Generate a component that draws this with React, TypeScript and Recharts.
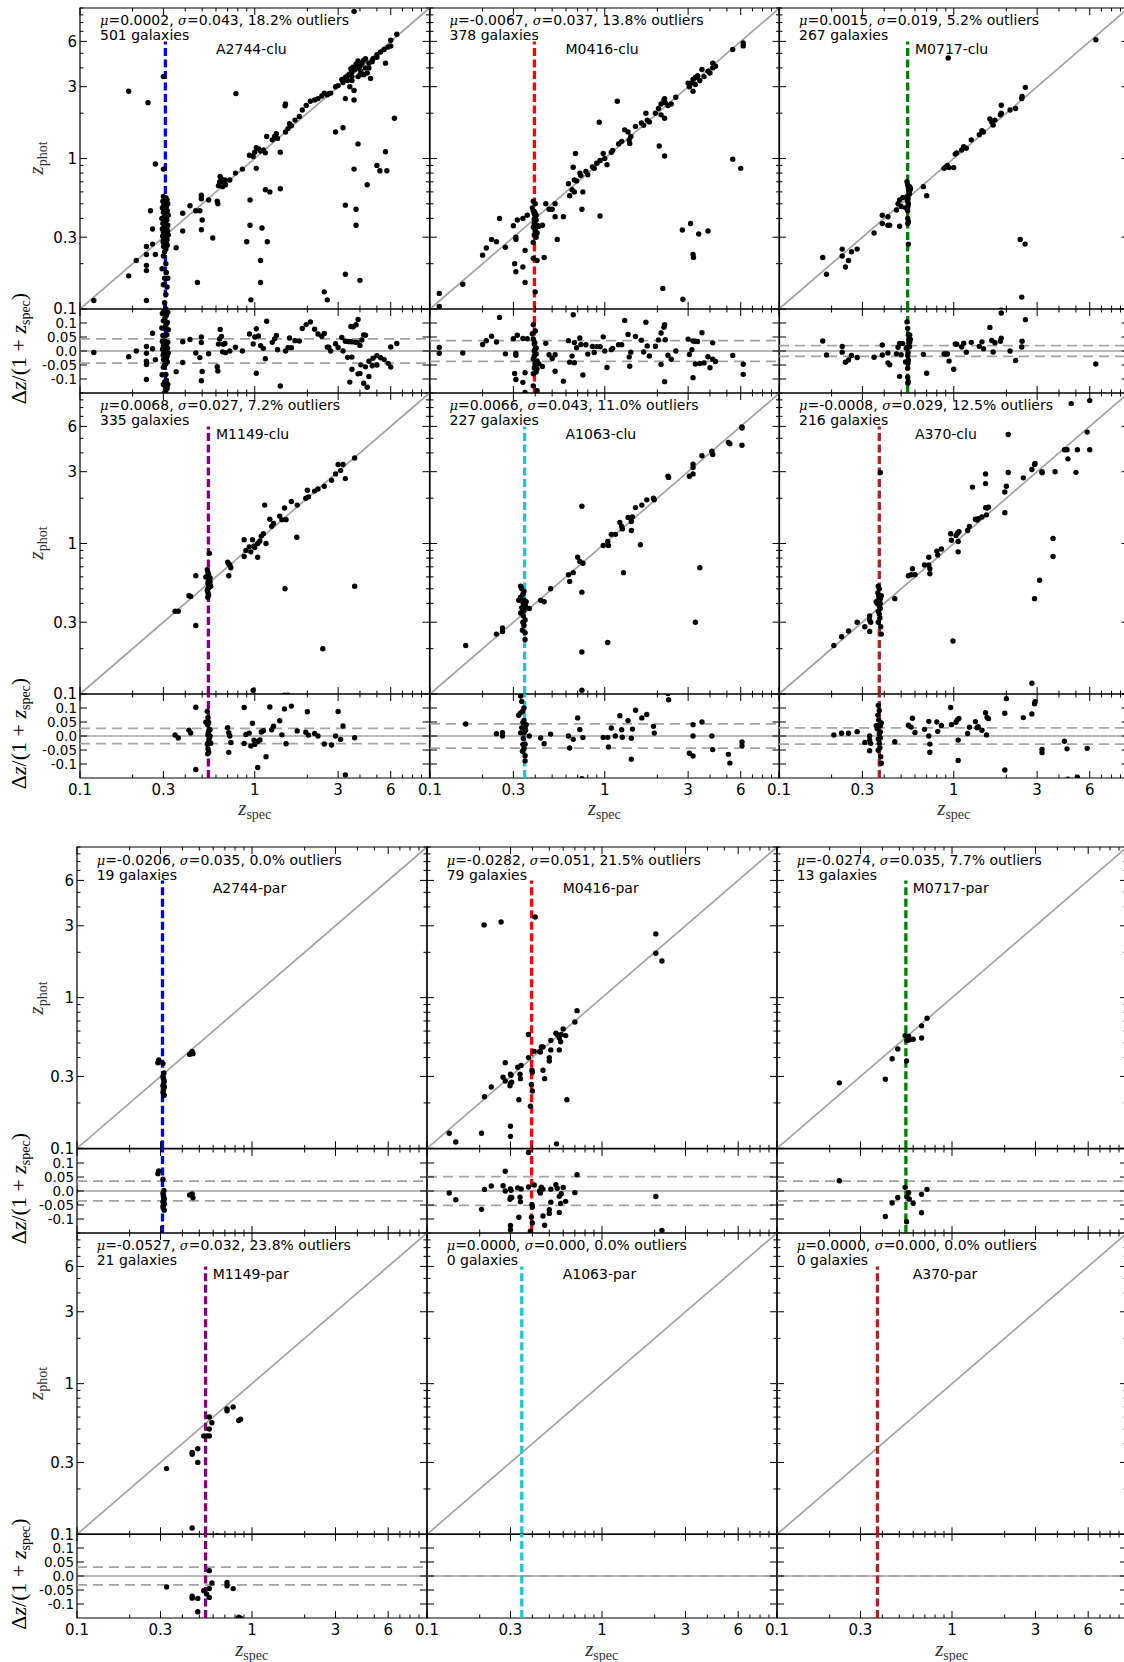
import React from "react";
import {
  ReferenceArea,
  ReferenceLine,
  Scatter,
  ScatterChart,
  XAxis,
  YAxis,
} from "recharts";

type Pt = [number, number]; // [z_spec, z_phot]

// ---- cluster fields ----
const A2744_CLU: Pt[] = [
  [0.12, 0.114], [0.19, 0.166], [0.21, 0.21], [0.24, 0.26], [0.24, 0.23], [0.24, 0.195], [0.24, 0.18],
  [0.24, 0.114], [0.253, 0.45], [0.26, 0.34], [0.26, 0.27], [0.27, 0.23], [0.27, 0.92], [0.19, 2.8],
  [0.245, 2.35], [0.3, 3.5], [0.3, 0.85],
  [0.3, 0.56], [0.31, 0.55], [0.305, 0.54], [0.315, 0.53], [0.298, 0.52], [0.308, 0.51], [0.318, 0.5],
  [0.302, 0.49], [0.312, 0.48], [0.296, 0.47], [0.306, 0.46], [0.316, 0.45], [0.3, 0.44], [0.31, 0.43],
  [0.32, 0.42], [0.304, 0.41], [0.294, 0.4], [0.314, 0.39], [0.308, 0.38], [0.298, 0.37], [0.318, 0.36],
  [0.303, 0.35], [0.313, 0.345], [0.296, 0.34], [0.307, 0.335], [0.317, 0.33], [0.3, 0.325], [0.311, 0.32],
  [0.305, 0.315], [0.32, 0.31], [0.297, 0.305], [0.309, 0.3], [0.302, 0.295], [0.315, 0.29], [0.306, 0.285],
  [0.299, 0.28], [0.312, 0.275], [0.304, 0.27], [0.316, 0.265], [0.301, 0.26], [0.31, 0.25], [0.305, 0.24],
  [0.3, 0.225], [0.31, 0.2], [0.295, 0.185], [0.312, 0.175], [0.305, 0.16], [0.318, 0.16], [0.3, 0.145],
  [0.315, 0.14], [0.31, 0.125], [0.305, 0.11], [0.31, 0.1],
  [0.355, 0.255], [0.387, 0.33], [0.387, 0.433], [0.426, 0.485], [0.46, 0.45], [0.485, 0.45], [0.495, 0.57],
  [0.495, 0.54], [0.5, 0.39], [0.495, 0.336], [0.545, 0.53], [0.61, 0.52], [0.615, 0.5], [0.575, 0.296],
  [0.47, 0.15], [0.634, 0.76], [0.645, 0.73], [0.66, 0.7], [0.68, 0.67], [0.63, 0.7], [0.62, 0.66],
  [0.655, 0.65], [0.675, 0.72], [0.72, 0.72], [0.776, 0.8], [0.85, 0.85], [0.933, 1.05], [0.98, 1.03],
  [1.0, 1.1], [1.02, 1.18], [1.05, 1.16], [1.08, 1.12], [1.12, 1.14], [1.17, 1.4], [1.02, 0.86],
  [1.15, 1.09], [1.26, 1.33], [1.3, 1.4], [1.33, 1.46], [1.35, 1.36], [1.4, 1.1], [1.5, 1.5], [1.55, 1.58],
  [1.62, 1.65], [1.58, 1.7], [1.5, 2.3], [1.49, 2.24], [1.7, 1.8], [1.8, 1.9], [1.87, 2.1], [1.97, 2.25],
  [2.08, 2.4], [2.2, 2.45], [2.3, 2.5], [2.42, 2.6], [2.5, 2.72], [2.6, 2.65], [2.65, 2.7], [2.72, 2.72],
  [2.9, 3.0], [3.0, 3.05], [3.15, 3.35], [3.3, 3.45], [3.45, 3.6], [3.55, 3.95], [3.65, 4.05], [3.8, 4.25],
  [3.9, 4.45], [4.0, 4.1], [3.35, 3.5], [3.5, 3.65], [3.6, 3.75], [3.75, 3.9], [3.85, 4.0], [4.1, 4.3],
  [4.2, 4.5], [4.3, 4.6], [3.2, 3.2], [3.4, 3.3], [3.6, 3.5], [4.05, 3.8], [4.3, 4.0], [3.5, 3.0],
  [3.6, 3.3], [4.0, 3.6], [4.2, 3.6], [3.9, 3.5], [4.5, 4.0], [4.7, 4.4], [5.0, 4.7],
  [3.3, 2.5], [3.7, 2.45], [3.7, 2.83], [4.4, 3.7], [4.6, 3.4], [4.5, 4.3], [4.75, 4.6], [5.0, 4.9],
  [5.25, 5.1], [5.5, 5.3], [5.8, 5.5], [6.0, 5.6], [5.6, 4.3], [6.0, 6.1], [6.5, 6.7], [3.7, 9.5],
  [6.3, 1.85], [2.9, 1.5], [3.2, 1.6], [3.9, 1.25], [3.7, 0.85], [5.0, 0.9], [5.2, 0.83], [5.7, 0.83],
  [5.6, 1.11], [4.4, 0.67], [3.3, 0.49], [3.8, 0.46], [3.8, 0.36], [3.3, 0.17], [4.0, 0.155], [2.5, 0.13],
  [2.6, 0.115], [1.4, 0.63], [1.15, 0.62], [1.22, 0.6], [0.94, 0.53], [0.94, 0.36], [1.1, 0.345],
  [1.18, 0.28], [0.9, 0.28], [1.08, 0.21], [1.08, 0.15], [0.95, 0.115], [0.78, 2.7],
];

const M0416_CLU: Pt[] = [
  [0.113, 0.127], [0.113, 0.104], [0.154, 0.146], [0.2, 0.228], [0.21, 0.254], [0.225, 0.29], [0.24, 0.28],
  [0.25, 0.4], [0.27, 0.257], [0.3, 0.357], [0.31, 0.3], [0.31, 0.29], [0.316, 0.39], [0.305, 0.2],
  [0.31, 0.177], [0.34, 0.19], [0.35, 0.15], [0.35, 0.245], [0.34, 0.4], [0.36, 0.42],
  [0.385, 0.47], [0.39, 0.45], [0.395, 0.43], [0.4, 0.41], [0.405, 0.39], [0.395, 0.37], [0.39, 0.35],
  [0.4, 0.33], [0.395, 0.31], [0.405, 0.3], [0.4, 0.5], [0.39, 0.52], [0.398, 0.44], [0.41, 0.36],
  [0.42, 0.355], [0.44, 0.36], [0.405, 0.42], [0.395, 0.395], [0.4, 0.34], [0.41, 0.32],
  [0.39, 0.277], [0.39, 0.217], [0.41, 0.21], [0.45, 0.22], [0.4, 0.13],
  [0.46, 0.5], [0.48, 0.46], [0.5, 0.46], [0.52, 0.41], [0.52, 0.5], [0.58, 0.41], [0.535, 0.29],
  [0.62, 0.68], [0.63, 0.565], [0.65, 0.62], [0.67, 0.6], [0.67, 0.72], [0.69, 0.71], [0.72, 0.8],
  [0.73, 0.77], [0.75, 0.6], [0.74, 0.46], [0.66, 0.875], [0.68, 1.08], [0.78, 0.82], [0.8, 0.78],
  [0.85, 0.88], [0.87, 0.86], [0.9, 0.93], [0.94, 0.97], [0.98, 1.08], [1.0, 1.0], [1.03, 0.91],
  [1.09, 1.1], [1.11, 1.13], [0.94, 0.415], [0.93, 1.74], [1.18, 2.4], [1.2, 1.25], [1.25, 1.3],
  [1.3, 1.55], [1.36, 1.5], [1.41, 1.4], [1.38, 1.33], [1.39, 1.26], [1.5, 1.63], [1.62, 1.72],
  [1.67, 1.66], [1.72, 2.0], [1.75, 1.8], [1.8, 1.75], [1.95, 2.0], [2.03, 2.15], [2.1, 2.3],
  [2.18, 2.45], [2.2, 2.5], [2.22, 2.35], [2.1, 1.95], [2.2, 1.85], [2.3, 2.25], [2.4, 2.3],
  [2.05, 1.21], [2.2, 1.04], [2.55, 2.55], [3.0, 3.17], [3.05, 3.0], [3.15, 3.17], [3.2, 3.35],
  [3.3, 3.45], [3.4, 3.55], [3.2, 2.8], [3.3, 3.1], [3.5, 3.3], [3.7, 3.5], [3.6, 3.9], [3.9, 3.8],
  [4.0, 3.7], [4.15, 4.3], [4.15, 4.0], [4.3, 4.1], [5.4, 5.3], [6.2, 5.86], [6.2, 5.6], [5.4, 0.99],
  [6.0, 0.86], [2.78, 0.335], [3.1, 0.37], [3.45, 0.315], [3.9, 0.33], [3.2, 0.23], [3.22, 0.22],
  [2.15, 0.137], [2.8, 0.116],
];

const M0717_CLU: Pt[] = [
  [0.178, 0.22], [0.187, 0.17], [0.23, 0.25], [0.23, 0.225], [0.24, 0.19], [0.25, 0.21], [0.26, 0.24],
  [0.28, 0.25], [0.35, 0.32], [0.39, 0.42], [0.39, 0.37], [0.42, 0.41], [0.42, 0.36], [0.43, 0.36],
  [0.49, 0.355], [0.47, 0.455], [0.48, 0.5], [0.49, 0.53], [0.5, 0.48], [0.51, 0.55],
  [0.54, 0.7], [0.545, 0.67], [0.55, 0.64], [0.553, 0.62], [0.556, 0.6], [0.558, 0.58], [0.54, 0.56],
  [0.548, 0.54], [0.545, 0.52], [0.55, 0.5], [0.547, 0.48], [0.545, 0.45], [0.53, 0.47], [0.56, 0.61],
  [0.565, 0.63], [0.56, 0.65], [0.535, 0.55], [0.545, 0.4], [0.55, 0.38], [0.546, 0.37],
  [0.55, 0.27], [0.67, 0.65], [0.7, 0.565], [0.88, 0.86], [0.9, 0.88], [0.92, 0.9], [0.94, 0.87],
  [1.0, 0.87], [1.02, 1.07], [1.04, 1.09], [1.11, 1.14], [1.14, 1.2], [1.18, 1.17], [1.26, 1.33],
  [1.4, 1.44], [1.45, 1.53], [1.48, 1.5], [1.61, 1.83], [1.68, 1.67], [1.72, 1.8], [1.65, 1.75],
  [1.87, 2.26], [1.87, 2.0], [1.85, 1.95], [2.1, 2.1], [2.26, 2.15], [2.45, 2.5], [2.46, 2.58],
  [2.57, 2.97], [6.5, 6.15], [0.93, 4.65], [2.4, 0.29], [2.56, 0.27], [2.45, 0.12], [1.87, 0.098],
];

const M1149_CLU: Pt[] = [
  [0.35, 0.355], [0.365, 0.355], [0.42, 0.45], [0.43, 0.445], [0.46, 0.61], [0.46, 0.285],
  [0.535, 0.67], [0.54, 0.64], [0.545, 0.62], [0.538, 0.6], [0.548, 0.58], [0.542, 0.56], [0.54, 0.545],
  [0.548, 0.53], [0.545, 0.51], [0.535, 0.49], [0.54, 0.47], [0.525, 0.6], [0.555, 0.59], [0.555, 0.555],
  [0.56, 0.52], [0.54, 0.5], [0.545, 0.455], [0.538, 0.44], [0.55, 0.86],
  [0.7, 0.75], [0.71, 0.73], [0.73, 0.69], [0.71, 0.61], [0.72, 0.72],
  [0.87, 1.06], [0.87, 0.82], [0.89, 0.9], [0.93, 0.95], [0.95, 0.88], [0.97, 1.06], [0.99, 0.96],
  [1.0, 0.94], [1.04, 1.0], [1.07, 1.04], [1.09, 1.12], [1.12, 1.16], [1.04, 0.81], [1.14, 1.8],
  [1.16, 1.0], [1.22, 1.45], [1.25, 1.3], [1.28, 1.36], [1.39, 1.52], [1.43, 1.44], [1.48, 1.72],
  [1.51, 1.44], [1.74, 1.1], [1.62, 1.9], [1.75, 1.8], [1.96, 2.0], [2.0, 2.26], [2.03, 2.04],
  [2.2, 2.23], [2.3, 2.3], [2.5, 2.4], [2.75, 2.63], [2.9, 2.9], [3.0, 3.35], [3.2, 3.35], [3.3, 2.7],
  [3.1, 3.05], [3.73, 3.7], [1.49, 0.5], [3.73, 0.52], [2.45, 0.2], [0.98, 0.106], [1.48, 0.098],
  [1.55, 0.098],
];

const A1063_CLU: Pt[] = [
  [0.16, 0.21], [0.24, 0.25], [0.26, 0.275], [0.26, 0.26],
  [0.33, 0.52], [0.335, 0.5], [0.345, 0.48], [0.34, 0.46], [0.33, 0.44], [0.345, 0.42], [0.34, 0.405],
  [0.35, 0.39], [0.335, 0.375], [0.345, 0.36], [0.33, 0.345], [0.342, 0.33], [0.35, 0.31], [0.34, 0.3],
  [0.345, 0.285], [0.338, 0.265], [0.35, 0.255], [0.322, 0.42], [0.355, 0.41], [0.352, 0.38],
  [0.34, 0.355], [0.35, 0.23], [0.37, 0.37], [0.43, 0.42], [0.45, 0.41], [0.49, 0.5], [0.62, 0.62],
  [0.63, 0.56], [0.66, 0.64], [0.7, 0.81], [0.72, 0.76], [0.75, 0.74], [0.74, 1.77], [0.74, 0.475],
  [0.74, 0.19], [0.74, 0.106], [0.98, 0.97], [1.04, 1.03], [1.05, 0.97], [1.04, 0.22], [1.09, 1.15],
  [1.15, 1.15], [1.22, 1.38], [1.25, 1.3], [1.26, 1.25], [1.36, 1.49], [1.42, 1.4], [1.42, 1.22],
  [1.44, 1.5], [1.5, 1.73], [1.6, 0.98], [1.63, 1.8], [1.28, 0.64], [1.74, 1.95], [1.9, 2.0],
  [1.92, 1.95], [2.3, 2.8], [2.32, 2.75], [3.05, 2.8], [3.2, 3.2], [3.2, 3.37], [3.2, 2.9], [3.6, 3.83],
  [4.1, 4.1], [4.15, 3.9], [5.1, 4.7], [5.2, 4.6], [6.1, 5.95], [6.1, 5.85], [6.1, 4.5], [3.5, 0.69],
  [3.3, 0.3],
];

const A370_CLU: Pt[] = [
  [0.206, 0.21], [0.228, 0.24], [0.25, 0.262], [0.28, 0.3], [0.31, 0.28], [0.33, 0.33], [0.33, 0.31],
  [0.335, 0.3], [0.33, 0.26],
  [0.37, 0.52], [0.375, 0.5], [0.368, 0.47], [0.372, 0.45], [0.38, 0.43], [0.37, 0.42], [0.365, 0.4],
  [0.375, 0.385], [0.38, 0.37], [0.37, 0.355], [0.375, 0.34], [0.385, 0.25], [0.36, 0.41], [0.385, 0.45],
  [0.378, 0.32], [0.37, 0.3], [0.382, 0.28], [0.38, 0.4],
  [0.46, 0.43], [0.38, 2.96], [0.55, 0.61], [0.57, 0.62], [0.58, 0.68], [0.6, 0.62], [0.68, 0.72],
  [0.72, 0.72], [0.73, 0.68], [0.73, 0.63], [0.72, 0.81], [0.8, 0.89], [0.81, 0.84], [0.85, 0.92],
  [0.96, 1.16], [0.97, 1.05], [1.03, 1.13], [1.05, 1.17], [1.07, 1.2], [1.06, 0.88], [1.06, 1.03],
  [1.2, 1.22], [1.23, 1.3], [1.28, 2.37], [1.33, 1.45], [1.36, 1.43], [1.38, 1.46], [1.45, 1.5],
  [1.52, 1.73], [1.55, 1.72], [1.58, 1.74], [1.54, 1.55], [1.52, 2.9], [1.52, 2.5], [1.96, 2.2],
  [1.96, 1.6], [2.0, 2.4], [2.05, 5.3], [2.05, 2.96], [2.5, 2.73], [2.8, 3.1], [2.9, 3.35], [2.92, 3.4],
  [3.2, 3.0], [3.2, 2.95], [3.8, 3.0], [4.3, 4.2], [4.45, 4.2], [4.5, 3.65], [5.1, 4.2], [5.0, 2.97],
  [4.7, 8.5], [6.0, 8.9], [5.8, 5.5], [6.0, 4.2], [3.7, 1.08], [3.7, 0.82], [3.1, 0.57], [2.9, 0.43],
  [0.99, 0.225], [2.8, 0.118],
];

// ---- parallel fields ----
const A2744_PAR: Pt[] = [
  [0.098, 0.098], [0.098, 0.05], [0.29, 0.37], [0.293, 0.386], [0.31, 0.365], [0.314, 0.316],
  [0.31, 0.3], [0.312, 0.29], [0.315, 0.28], [0.313, 0.27], [0.31, 0.26], [0.316, 0.255], [0.312, 0.245],
  [0.31, 0.235], [0.315, 0.225], [0.44, 0.42], [0.45, 0.43], [0.455, 0.44], [0.46, 0.425],
];

const M0416_PAR: Pt[] = [
  [0.134, 0.126], [0.146, 0.11], [0.205, 0.126], [0.213, 0.22], [0.233, 0.255], [0.212, 3.04],
  [0.265, 3.18], [0.415, 3.43], [0.28, 0.37], [0.272, 0.296], [0.28, 0.28], [0.3, 0.31], [0.302, 0.305],
  [0.3, 0.27], [0.305, 0.275], [0.298, 0.26], [0.3, 0.14], [0.3, 0.12], [0.335, 0.21], [0.33, 0.345],
  [0.345, 0.355], [0.34, 0.31], [0.342, 0.29], [0.38, 0.57], [0.38, 0.4], [0.4, 0.32], [0.398, 0.33],
  [0.395, 0.265], [0.4, 0.24], [0.39, 0.19], [0.38, 0.092], [0.41, 0.44], [0.44, 0.44], [0.445, 0.435],
  [0.45, 0.47], [0.46, 0.47], [0.46, 0.33], [0.47, 0.29], [0.5, 0.38], [0.5, 0.4], [0.51, 0.45],
  [0.51, 0.52], [0.545, 0.58], [0.555, 0.57], [0.57, 0.54], [0.58, 0.51], [0.57, 0.45], [0.6, 0.62],
  [0.62, 0.56], [0.585, 0.57], [0.55, 0.107], [0.63, 0.21], [0.7, 0.69], [0.72, 0.82], [2.03, 2.65],
  [2.03, 1.97], [2.2, 1.75],
];

const M0717_PAR: Pt[] = [
  [0.227, 0.272], [0.416, 0.287], [0.455, 0.393], [0.49, 0.456], [0.54, 0.56], [0.565, 0.555],
  [0.553, 0.52], [0.57, 0.525], [0.6, 0.53], [0.55, 0.38], [0.67, 0.54], [0.67, 0.65], [0.72, 0.73],
];

const M1149_PAR: Pt[] = [
  [0.325, 0.273], [0.455, 0.35], [0.455, 0.34], [0.49, 0.37], [0.49, 0.3], [0.455, 0.11], [0.53, 0.45],
  [0.55, 0.45], [0.57, 0.45], [0.57, 0.5], [0.57, 0.6], [0.59, 0.55], [0.72, 0.68], [0.72, 0.66],
  [0.78, 0.7], [0.84, 0.57], [0.86, 0.58], [0.63, 0.098],
];

const A1063_PAR: Pt[] = [];
const A370_PAR: Pt[] = [];

// ---- panel labels / stats ----
const CLUSTERS = ["A2744", "M0416", "M0717", "M1149", "A1063", "A370"];
const Z_CLUSTER = [0.308, 0.396, 0.545, 0.543, 0.348, 0.375];
const LINE_COLORS = ["#0000ff", "#ff0000", "#008000", "#800080", "#1cc8cf", "#b22222"];

const CLU_MU = ["0.0002", "-0.0067", "0.0015", "0.0068", "0.0066", "-0.0008"];
const CLU_SIGMA = [0.043, 0.037, 0.019, 0.027, 0.043, 0.029];
const CLU_OUTLIERS = ["18.2", "13.8", "5.2", "7.2", "11.0", "12.5"];
const CLU_COUNT = [501, 378, 267, 335, 227, 216];

const PAR_MU = ["-0.0206", "-0.0282", "-0.0274", "-0.0527", "0.0000", "0.0000"];
const PAR_SIGMA = [0.035, 0.051, 0.035, 0.032, 0, 0];
const PAR_OUTLIERS = ["0.0", "21.5", "7.7", "23.8", "0.0", "0.0"];
const PAR_COUNT = [19, 79, 13, 21, 0, 0];

const LOG_TICKS = [0.1, 0.2, 0.3, 0.4, 0.5, 0.6, 0.7, 0.8, 0.9, 1, 2, 3, 4, 5, 6, 7, 8, 9, 10];
const LOG_LABELS = new Map<number, string>([
  [0.1, "0.1"],
  [0.3, "0.3"],
  [1, "1"],
  [3, "3"],
  [6, "6"],
]);
const RES_TICKS = [-0.1, -0.05, 0, 0.05, 0.1];
const RES_LABELS = new Map<number, string>([
  [-0.1, "-0.1"],
  [-0.05, "-0.05"],
  [0, "0.0"],
  [0.05, "0.05"],
  [0.1, "0.1"],
]);

const GROUPS = [
  {
    suffix: "clu",
    lefts: [80, 429.5, 779],
    width: 349.5,
    tops: [7.5, 392.5],
    mainH: 301,
    resH: 84,
    data: [A2744_CLU, M0416_CLU, M0717_CLU, M1149_CLU, A1063_CLU, A370_CLU],
    mu: CLU_MU,
    sigma: CLU_SIGMA,
    outliers: CLU_OUTLIERS,
    count: CLU_COUNT,
  },
  {
    suffix: "par",
    lefts: [76.7, 426.7, 776.7],
    width: 350,
    tops: [847.3, 1232.7],
    mainH: 301.3,
    resH: 84,
    data: [A2744_PAR, M0416_PAR, M0717_PAR, M1149_PAR, A1063_PAR, A370_PAR],
    mu: PAR_MU,
    sigma: PAR_SIGMA,
    outliers: PAR_OUTLIERS,
    count: PAR_COUNT,
  },
];

const GRAY = "#a3a3a3";
const SANS = "DejaVu Sans";
const SERIF = "Liberation Serif";
const TICK_TEXT = { fontFamily: SANS, fontSize: 15, fill: "#000" };
// the axes get 1px of room (recharts skips 0-sized axes); the plot area is offset by it
const NO_MARGIN = { top: 0, right: 0, bottom: 0, left: 0 };
const AXIS_PX = 1;

const dot = (p: any) => <circle cx={p.cx} cy={p.cy} r={2.7} fill="#000" />;

// ticks point inwards on all four sides; bottom axis draws top ticks too
function xTick(h: number, showLabels: boolean) {
  return (p: any) => {
    const { x, y } = p;
    const lab = LOG_LABELS.get(p.payload.value);
    const len = lab ? 7 : 3.5;
    return (
      <g>
        <line x1={x} x2={x} y1={y} y2={y - len} stroke="#000" />
        <line x1={x} x2={x} y1={y - h} y2={y - h + len} stroke="#000" />
        {showLabels && lab ? (
          <text x={x} y={y + 16.5} textAnchor="middle" {...TICK_TEXT}>
            {lab}
          </text>
        ) : null}
      </g>
    );
  };
}

function yTick(
  w: number,
  showLabels: boolean,
  labels: Map<number, string>,
  allMajor: boolean,
  fontSize: number,
) {
  return (p: any) => {
    const { x, y } = p;
    const lab = labels.get(p.payload.value);
    const len = lab || allMajor ? 7 : 3.5;
    return (
      <g>
        <line x1={x} x2={x + len} y1={y} y2={y} stroke="#000" />
        <line x1={x + w} x2={x + w - len} y1={y} y2={y} stroke="#000" />
        {showLabels && lab ? (
          <text x={x - 3} y={y + fontSize * 0.36} textAnchor="end" {...TICK_TEXT} fontSize={fontSize}>
            {lab}
          </text>
        ) : null}
      </g>
    );
  };
}

type PanelProps = {
  left: number;
  top: number;
  w: number;
  h: number;
  data: Pt[];
  zc: number;
  color: string;
  showY: boolean;
};

function MainPanel({ left, top, w, h, data, zc, color, showY }: PanelProps) {
  const pts = data.map(([x, y]) => ({ x, y }));
  return (
    <div style={{ position: "absolute", left: left - AXIS_PX, top }}>
      <ScatterChart width={w + AXIS_PX} height={h + AXIS_PX} margin={NO_MARGIN}>
        <XAxis
          type="number"
          dataKey="x"
          scale="log"
          domain={[0.1, 10]}
          allowDataOverflow
          ticks={LOG_TICKS}
          interval={0}
          height={AXIS_PX}
          tickSize={0}
          tickMargin={0}
          axisLine={false}
          tickLine={false}
          tick={xTick(h, false)}
        />
        <YAxis
          type="number"
          dataKey="y"
          scale="log"
          domain={[0.1, 10]}
          allowDataOverflow
          ticks={LOG_TICKS}
          interval={0}
          width={AXIS_PX}
          tickSize={0}
          tickMargin={0}
          axisLine={false}
          tickLine={false}
          tick={yTick(w, showY, LOG_LABELS, false, 15)}
        />
        <ReferenceArea x1={0.1} x2={10} y1={0.1} y2={10} fill="none" stroke="#000" strokeWidth={1.2} ifOverflow="visible" />
        <ReferenceLine
          segment={[{ x: 0.1, y: 0.1 }, { x: 10, y: 10 }]}
          stroke={GRAY}
          strokeWidth={1.7}
          ifOverflow="visible"
        />
        <ReferenceLine
          segment={[{ x: zc, y: 0.1 }, { x: zc, y: 6 }]}
          stroke={color}
          strokeWidth={3.3}
          strokeDasharray="8 3.5"
          ifOverflow="visible"
        />
        <Scatter data={pts} shape={dot} isAnimationActive={false} />
      </ScatterChart>
    </div>
  );
}

function ResidualPanel({
  left,
  top,
  w,
  h,
  data,
  zc,
  color,
  showY,
  showX,
  sigma,
}: PanelProps & { showX: boolean; sigma: number }) {
  const pts = data.map(([x, y]) => ({ x, y: (y - x) / (1 + x) }));
  return (
    <div style={{ position: "absolute", left: left - AXIS_PX, top }}>
      <ScatterChart width={w + AXIS_PX} height={h + AXIS_PX} margin={NO_MARGIN}>
        <XAxis
          type="number"
          dataKey="x"
          scale="log"
          domain={[0.1, 10]}
          allowDataOverflow
          ticks={LOG_TICKS}
          interval={0}
          height={AXIS_PX}
          tickSize={0}
          tickMargin={0}
          axisLine={false}
          tickLine={false}
          tick={xTick(h, showX)}
        />
        <YAxis
          type="number"
          dataKey="y"
          domain={[-0.15, 0.15]}
          allowDataOverflow
          ticks={RES_TICKS}
          interval={0}
          width={AXIS_PX}
          tickSize={0}
          tickMargin={0}
          axisLine={false}
          tickLine={false}
          tick={yTick(w, showY, RES_LABELS, true, 13.5)}
        />
        <ReferenceArea x1={0.1} x2={10} y1={-0.15} y2={0.15} fill="none" stroke="#000" strokeWidth={1.2} ifOverflow="visible" />
        <ReferenceLine y={0} stroke={GRAY} strokeWidth={1.7} />
        <ReferenceLine y={sigma} stroke={GRAY} strokeWidth={1.7} strokeDasharray="10 6" />
        <ReferenceLine y={-sigma} stroke={GRAY} strokeWidth={1.7} strokeDasharray="10 6" />
        <ReferenceLine x={zc} stroke={color} strokeWidth={3.3} strokeDasharray="8 3.5" />
        <Scatter data={pts} shape={dot} isAnimationActive={false} />
      </ScatterChart>
    </div>
  );
}

export default function App() {
  const charts: React.ReactNode[] = [];
  const texts: React.ReactNode[] = [];

  GROUPS.forEach((g, gi) => {
    CLUSTERS.forEach((name, i) => {
      const row = Math.floor(i / 3);
      const col = i % 3;
      const left = g.lefts[col];
      const top = g.tops[row];
      const common = {
        left,
        w: g.width,
        data: g.data[i],
        zc: Z_CLUSTER[i],
        color: LINE_COLORS[i],
        showY: col === 0,
      };
      charts.push(<MainPanel key={`m${gi}${i}`} {...common} top={top} h={g.mainH} />);
      charts.push(
        <ResidualPanel
          key={`r${gi}${i}`}
          {...common}
          top={top + g.mainH}
          h={g.resH}
          showX={row === 1}
          sigma={g.sigma[i]}
        />,
      );

      texts.push(
        <g key={`t${gi}${i}`} fontFamily={SANS} fontSize={14} fill="#000">
          <text x={left + 20} y={top + 17.5}>
            <tspan fontFamily="DejaVu Serif" fontStyle="italic" fontSize={13}>μ</tspan>
            {`=${g.mu[i]}, `}
            <tspan fontFamily="DejaVu Serif" fontStyle="italic" fontSize={13}>σ</tspan>
            {`=${g.sigma[i].toFixed(3)}, ${g.outliers[i]}% outliers`}
          </text>
          <text x={left + 20} y={top + 32.5}>{`${g.count[i]} galaxies`}</text>
          <text x={left + 136} y={top + 46}>{`${name}-${g.suffix}`}</text>
        </g>,
      );

      if (col === 0) {
        const yc = top + g.mainH / 2;
        const rc = top + g.mainH + g.resH / 2 - 2;
        texts.push(
          <text
            key={`yl${gi}${i}`}
            x={43}
            y={yc}
            textAnchor="middle"
            transform={`rotate(-90 43 ${yc})`}
            fontFamily={SERIF}
            fill="#333"
          >
            <tspan fontStyle="italic" fontSize={21}>z</tspan>
            <tspan fontSize={14} dy={4}>phot</tspan>
          </text>,
        );
        texts.push(
          <text
            key={`rl${gi}${i}`}
            x={26}
            y={rc}
            textAnchor="middle"
            transform={`rotate(-90 26 ${rc})`}
            fontFamily={SERIF}
            fontSize={22}
            fill="#000"
          >
            <tspan>Δ</tspan>
            <tspan fontStyle="italic">z</tspan>
            <tspan>/(1 + </tspan>
            <tspan fontStyle="italic">z</tspan>
            <tspan fontSize={14} dy={4}>spec</tspan>
            <tspan dy={-4}>)</tspan>
          </text>,
        );
      }

      if (row === 1) {
        const xc = left + g.width / 2;
        const yb = top + g.mainH + g.resH + 37.5;
        texts.push(
          <text key={`xl${gi}${i}`} x={xc} y={yb} textAnchor="middle" fontFamily={SERIF} fill="#333">
            <tspan fontStyle="italic" fontSize={21}>z</tspan>
            <tspan fontSize={14} dy={4}>spec</tspan>
          </text>,
        );
      }
    });
  });

  return (
    <div
      style={{
        position: "absolute",
        left: 0,
        top: 0,
        width: 1124,
        height: 1662,
        overflow: "hidden",
        background: "#fff",
      }}
    >
      <style>{".recharts-surface{overflow:visible}"}</style>
      {charts}
      <svg
        width={1124}
        height={1662}
        style={{ position: "absolute", left: 0, top: 0, pointerEvents: "none" }}
      >
        {texts}
      </svg>
    </div>
  );
}
